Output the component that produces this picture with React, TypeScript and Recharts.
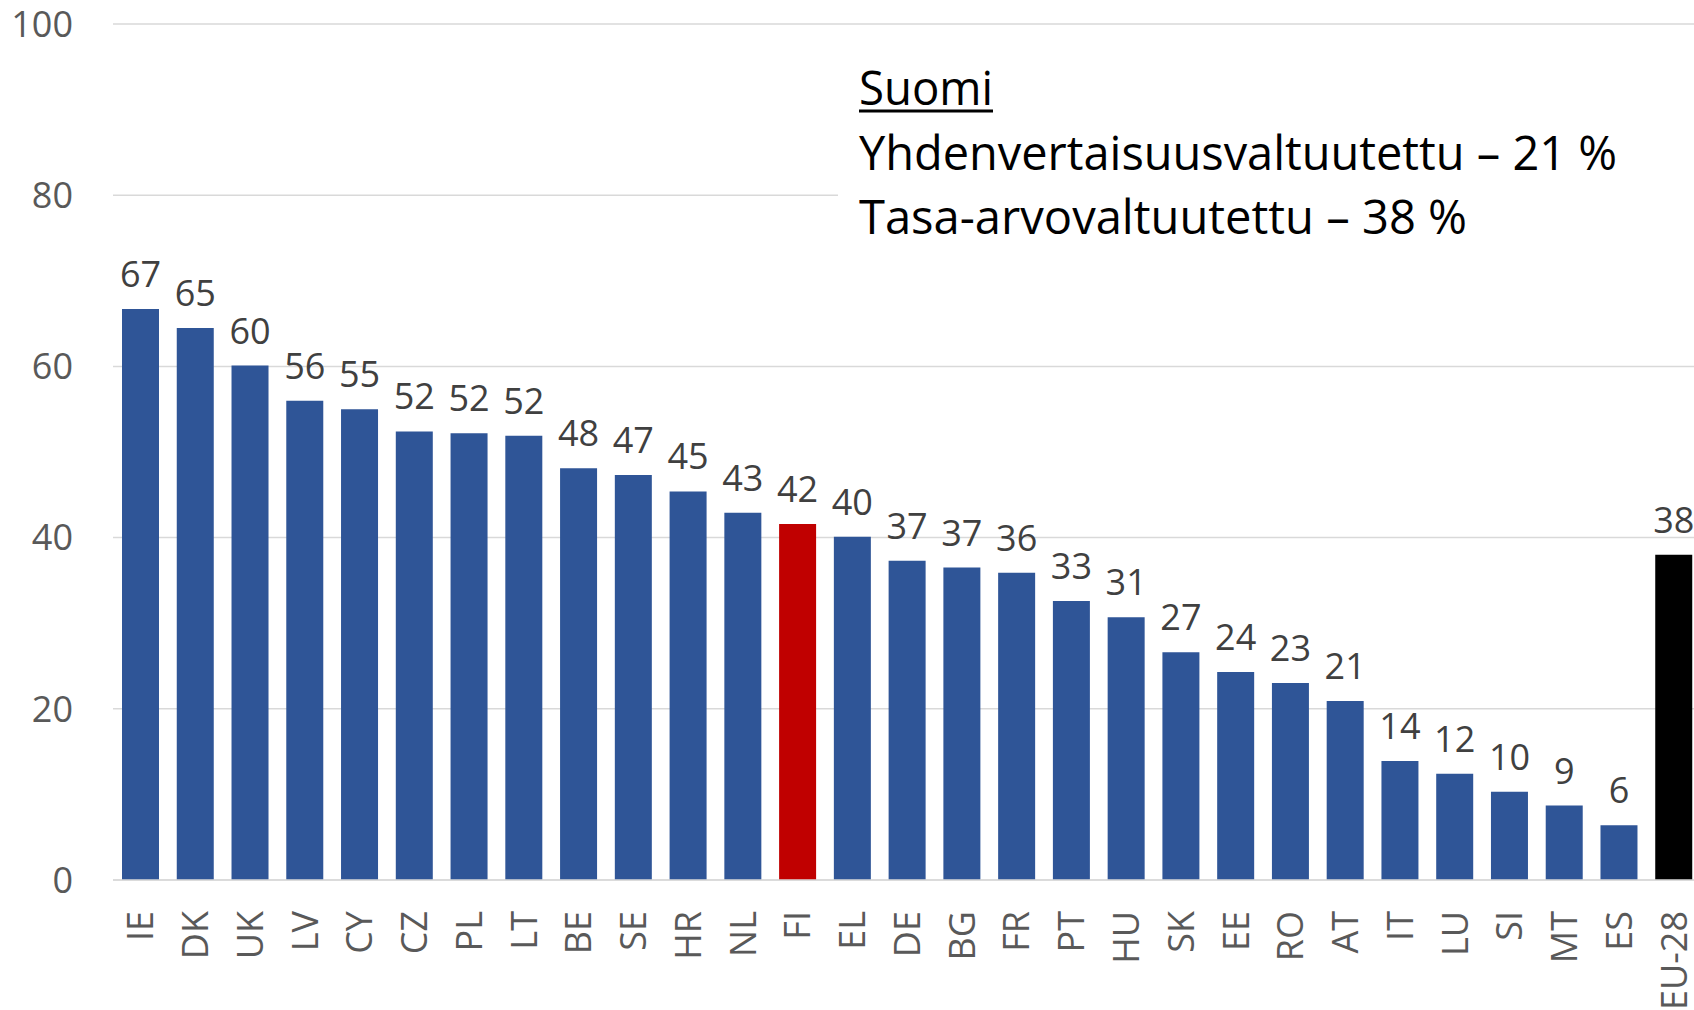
import { BarChart, Bar, XAxis, YAxis, CartesianGrid, Cell, LabelList } from 'recharts';

const countries = [
  'IE', 'DK', 'UK', 'LV', 'CY', 'CZ', 'PL', 'LT', 'BE', 'SE', 'HR', 'NL', 'FI', 'EL', 'DE',
  'BG', 'FR', 'PT', 'HU', 'SK', 'EE', 'RO', 'AT', 'IT', 'LU', 'SI', 'MT', 'ES', 'EU-28',
];
const shares = [
  66.7, 64.5, 60.1, 56.0, 55.0, 52.4, 52.2, 51.9, 48.1, 47.3, 45.4, 42.9, 41.6, 40.1, 37.3,
  36.5, 35.9, 32.6, 30.7, 26.6, 24.3, 23.0, 20.9, 13.9, 12.4, 10.3, 8.7, 6.4, 38.0,
];
const yTicks = [0, 20, 40, 60, 80, 100];

const noteTitle = 'Suomi';
const noteLines = ['Yhdenvertaisuusvaltuutettu – 21 %', 'Tasa-arvovaltuutettu – 38 %'];

const data = countries.map((c, i) => ({ country: c, value: shares[i] }));

const FONT = '"Open Sans", sans-serif';
const BLUE = '#2F5597';
const RED = '#C00000';
const BLACK = '#000000';

const barColor = (c: string) => (c === 'FI' ? RED : c === 'EU-28' ? BLACK : BLUE);

const XTick = ({ x, y, payload }: any) => (
  <text
    transform={`translate(${x},${y + 31}) rotate(-90)`}
    textAnchor="end"
    dy="0.36em"
    fontSize={36}
    fontFamily={FONT}
    fill="#595959"
  >
    {payload.value}
  </text>
);

export default function App() {
  return (
    <div style={{ position: 'fixed', left: 0, top: 0, width: 1694, height: 1010, overflow: 'hidden', background: '#fff' }}>
      <BarChart
        width={1720}
        height={1010}
        data={data}
        margin={{ top: 24, right: 19, left: 0, bottom: 0 }}
        barSize={37}
      >
        <CartesianGrid vertical={false} stroke="#D9D9D9" strokeWidth={1.5} />
        <XAxis
          dataKey="country"
          interval={0}
          height={130}
          tickLine={false}
          tickSize={0}
          tickMargin={0}
          axisLine={{ stroke: '#D9D9D9', strokeWidth: 1.5 }}
          tick={<XTick />}
        />
        <YAxis
          width={113}
          domain={[0, 100]}
          ticks={yTicks}
          axisLine={false}
          tickLine={false}
          tickSize={0}
          tickMargin={40}
          tick={{ fontSize: 36, fontFamily: FONT, fill: '#595959' }}
        />
        <Bar dataKey="value" isAnimationActive={false}>
          {data.map((d) => (
            <Cell key={d.country} fill={barColor(d.country)} />
          ))}
          <LabelList
            dataKey="value"
            position="top"
            offset={22}
            formatter={(v: any) => Math.round(Number(v))}
            style={{ fontSize: 36, fontFamily: FONT, fill: '#404040' }}
          />
        </Bar>
      </BarChart>

      {/* annotation box, sits over the 80 gridline like in the original */}
      <svg width={1694} height={1010} style={{ position: 'absolute', left: 0, top: 0, pointerEvents: 'none' }}>
        <rect x={838} y={45} width={856} height={212} fill="#fff" />
        <text x={859} y={105} fontSize={48} fontFamily={FONT} fill="#000" textLength={134} lengthAdjust="spacingAndGlyphs">
          {noteTitle}
        </text>
        <line x1={859} x2={993} y1={111} y2={111} stroke="#000" strokeWidth={3} />
        {noteLines.map((t, i) => (
          <text
            key={t}
            x={859}
            y={170 + i * 64}
            fontSize={48}
            fontFamily={FONT}
            fill="#000"
            textLength={i === 0 ? 758 : 608}
            lengthAdjust="spacingAndGlyphs"
          >
            {t}
          </text>
        ))}
      </svg>
    </div>
  );
}
